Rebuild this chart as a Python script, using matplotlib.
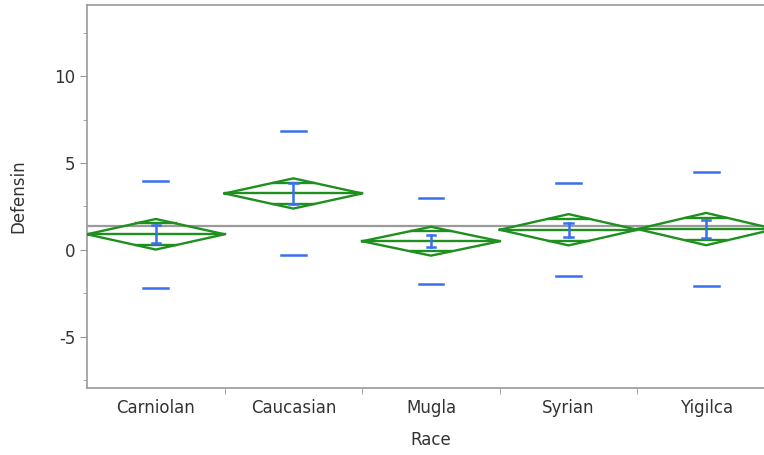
import numpy as np
import matplotlib
matplotlib.use("Agg")
from matplotlib import pyplot as plt
from matplotlib.ticker import MultipleLocator

plt.rcParams['axes.unicode_minus'] = False

# Means diamonds
races = ["Carniolan", "Caucasian", "Mugla", "Syrian", "Yigilca"]
means = [0.90, 3.25, 0.50, 1.16, 1.20]
ci_half = [0.88, 0.87, 0.83, 0.90, 0.93]   # diamond half height (95% CI)
se = [0.51, 0.58, 0.36, 0.40, 0.51]        # blue error bars
sd = [3.07, 3.57, 2.48, 2.67, 3.27]        # blue dashes at mean +/- sd
grand_mean = 1.38

green = "#1f8f1f"
blue = "#3b6ff0"
grey = "#9a9a9a"
txt = "#333333"

fig = plt.figure(figsize=(7.64, 4.55), dpi=100)
# the plot runs a bit past the right edge of the picture, like the original
ax = fig.add_axes([87 / 764, 67 / 455, 688 / 764, 383 / 455])

ax.axhline(grand_mean, color=grey, lw=1.6, zorder=1)

for i, name in enumerate(races):
    m = means[i]
    h = ci_half[i]
    left, right, c = i, i + 1, i + 0.5
    ax.plot([left, c, right, c, left], [m, m + h, m, m - h, m], color=green, lw=1.7, zorder=3)
    ax.plot([left, right], [m, m], color=green, lw=1.7, zorder=3)
    # overlap marks
    off = h / np.sqrt(2)
    hw = 0.5 * (1 - 1 / np.sqrt(2))
    for y in (m + off, m - off):
        ax.plot([c - hw, c + hw], [y, y], color=green, lw=1.7, zorder=3)
    # standard error bar
    ax.plot([c, c], [m - se[i], m + se[i]], color=blue, lw=1.8, zorder=4)
    for y in (m - se[i], m + se[i]):
        ax.plot([c - 0.03, c + 0.03], [y, y], color=blue, lw=1.8, zorder=4)
    # std dev dashes
    for y in (m - sd[i], m + sd[i]):
        ax.plot([c - 0.09, c + 0.09], [y, y], color=blue, lw=1.8, zorder=4)

ax.set_xlim(0, 5)
ax.set_ylim(-7.95, 14.1)

ax.set_xticks([i + 0.5 for i in range(len(races))])
ax.set_xticklabels(races, fontsize=12, color=txt)
ax.set_xticks(range(1, len(races)), minor=True)
ax.tick_params(axis="x", which="major", length=0, pad=8)
ax.tick_params(axis="x", which="minor", length=4, color=grey)

ax.yaxis.set_major_locator(MultipleLocator(5))
ax.yaxis.set_minor_locator(MultipleLocator(2.5))
ax.tick_params(axis="y", which="major", length=5, color=grey, labelsize=12, labelcolor=txt)
ax.tick_params(axis="y", which="minor", length=3, color=grey)

for s in ax.spines.values():
    s.set_color(grey)
    s.set_linewidth(1.2)

ax.set_xlabel("Race", fontsize=12, labelpad=10, color=txt)
ax.set_ylabel("Defensin", fontsize=12, labelpad=19, color=txt)

fig.savefig("out.png", dpi=100)
